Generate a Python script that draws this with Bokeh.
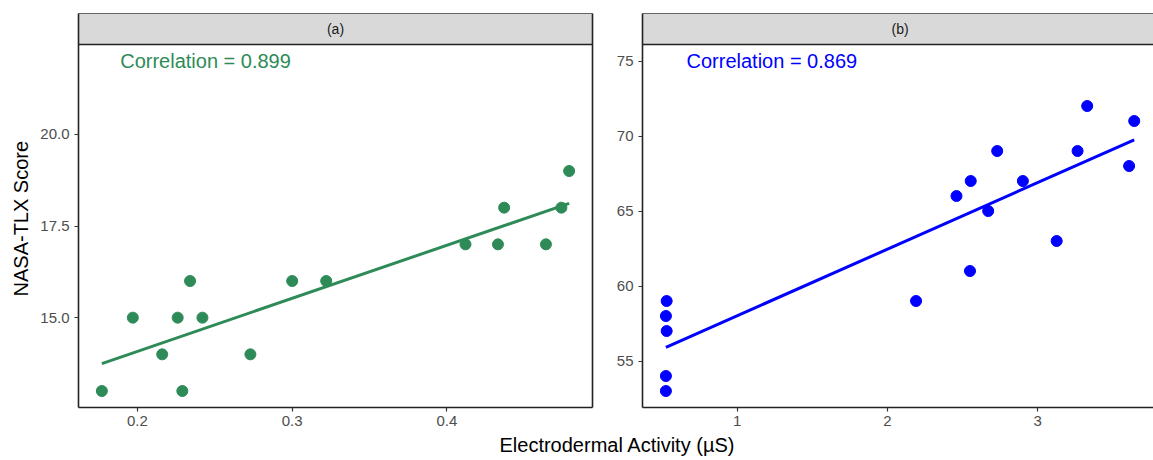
import numpy as np
from bokeh.plotting import figure
from bokeh.layouts import column, row
from bokeh.models import (Range1d, FixedTicker, PrintfTickFormatter, BoxAnnotation,
                          Label, LinearAxis, Span)
from bokeh.embed import file_html
from bokeh.resources import INLINE

FONT = "Liberation Sans"

# ---- data -------------------------------------------------------------
# Panel (a): electrodermal activity vs NASA-TLX score
eda_a = [0.177, 0.197, 0.216, 0.226, 0.229, 0.234, 0.242, 0.273, 0.300, 0.322,
         0.412, 0.433, 0.464, 0.437, 0.474, 0.479]
tlx_a = [13, 15, 14, 15, 13, 16, 15, 14, 16, 16, 17, 17, 17, 18, 18, 19]

# Panel (b)
eda_b = [0.530, 0.525, 0.530, 0.525, 0.525, 2.190, 2.549, 3.126, 2.459, 2.554,
         2.670, 2.730, 2.901, 3.265, 3.329, 3.642, 3.608]
tlx_b = [59, 58, 57, 54, 53, 59, 61, 63, 66, 67, 65, 69, 67, 69, 72, 71, 68]

panel_titles = ["(a)", "(b)"]
corr_labels = ["Correlation = 0.899", "Correlation = 0.869"]
corr_x = [0.244, 1.23]
corr_y = [22, 75]
colors = ["#2E8B57", "#0000FF"]

x_ticks_a = [0.2, 0.3, 0.4]
y_ticks_a = [15, 17.5, 20]
x_ticks_b = [1, 2, 3]
y_ticks_b = [55, 60, 65, 70, 75]

x_title = "Electrodermal Activity (\u00b5S)"
y_title = "NASA-TLX Score"

# ---- layout constants (pixels) ------------------------------------------
TOP = 13          # space above the facet strip
STRIP = 31        # facet strip height
PANEL_H = 363     # panel height
BOTTOM = 26       # room for x tick labels
ROW_H = TOP + STRIP + PANEL_H + BOTTOM
Y_TITLE_W = 32    # column holding the y axis title
W_A = 602 - Y_TITLE_W
LEFT_A = 78 - Y_TITLE_W
RIGHT_A = 10
W_B = 1153 - 602
LEFT_B = 642 - 602
VISIBLE_B = 0.992  # share of panel (b) that fits on the page

BORDER = "#222222"
BORDER_W = 1.6


def expand(lo, hi, f=0.05):
    d = (hi - lo) * f
    return lo - d, hi + d


def bare_axis(color, width):
    return LinearAxis(ticker=FixedTicker(ticks=[]), major_label_text_font_size="0px",
                      axis_line_color=color, axis_line_width=width,
                      major_tick_line_color=None, minor_tick_line_color=None)


def make_panel(x, y, color, title, corr, cx, cy, xt, yt, xfmt, yfmt,
               width, left, right, visible=1.0, right_border=True):
    x = np.asarray(x, float)
    y = np.asarray(y, float)
    xlo, xhi = expand(min(x.min(), cx), max(x.max(), cx))
    ylo, yhi = expand(min(y.min(), cy), max(y.max(), cy))
    strip_h = (yhi - ylo) * STRIP / PANEL_H
    x_end = xlo + (xhi - xlo) * visible

    p = figure(width=width, height=ROW_H, title=None,
               x_range=Range1d(xlo, x_end), y_range=Range1d(ylo, yhi + strip_h),
               min_border_left=left, min_border_right=right,
               min_border_top=TOP, min_border_bottom=BOTTOM,
               toolbar_location=None, output_backend="svg",
               outline_line_color=None, background_fill_color="white",
               border_fill_color="white")
    p.grid.visible = False

    for ax, ticks, fmt in ((p.xaxis[0], xt, xfmt), (p.yaxis[0], yt, yfmt)):
        ax.ticker = FixedTicker(ticks=ticks)
        ax.formatter = PrintfTickFormatter(format=fmt)
        ax.axis_line_color = BORDER
        ax.axis_line_width = BORDER_W
        ax.major_tick_line_color = "#333333"
        ax.major_tick_line_width = 1.2
        ax.major_tick_out = 4
        ax.major_tick_in = 0
        ax.minor_tick_line_color = None
        ax.major_label_text_color = "#4d4d4d"
        ax.major_label_text_font = FONT
        ax.major_label_text_font_size = "15px"
    p.xaxis[0].major_label_standoff = 4
    p.yaxis[0].major_label_standoff = 5

    # outer frame lines: strip top and, where visible, the right edge
    p.add_layout(bare_axis("#666666", 1), "above")
    if right_border:
        p.add_layout(bare_axis(BORDER, BORDER_W), "right")

    # facet strip
    p.add_layout(BoxAnnotation(bottom=yhi, fill_color="#d9d9d9", fill_alpha=1,
                               line_color=None, level="underlay"))
    p.add_layout(Span(location=yhi, dimension="width", line_color=BORDER,
                      line_width=BORDER_W))
    p.add_layout(Label(x=(xlo + xhi) / 2, y=yhi + strip_h / 2, text=title,
                       text_align="center", text_baseline="middle",
                       text_font=FONT, text_font_size="14px", text_color="#1a1a1a"))

    # points and least-squares line
    p.scatter(x, y, size=11, fill_color=color, line_color=color)
    k, b = np.polyfit(x, y, 1)
    xs = np.array([x.min(), x.max()])
    p.line(xs, k * xs + b, line_color=color, line_width=3)

    p.add_layout(Label(x=cx, y=cy, text=corr, text_align="center",
                       text_baseline="middle", text_font=FONT,
                       text_font_size="20px", text_color=color))
    return p


pa = make_panel(eda_a, tlx_a, colors[0], panel_titles[0], corr_labels[0],
                corr_x[0], corr_y[0], x_ticks_a, y_ticks_a, "%.1f", "%.1f",
                W_A, LEFT_A, RIGHT_A)
pb = make_panel(eda_b, tlx_b, colors[1], panel_titles[1], corr_labels[1],
                corr_x[1], corr_y[1], x_ticks_b, y_ticks_b, "%d", "%d",
                W_B, LEFT_B, 0, VISIBLE_B, right_border=False)


def text_strip(width, height, text, x, y, angle=0.0):
    f = figure(width=width, height=height, title=None,
               x_range=Range1d(0, width), y_range=Range1d(0, height),
               x_axis_type=None, y_axis_type=None, min_border=0,
               toolbar_location=None, output_backend="svg",
               outline_line_color=None)
    f.grid.visible = False
    f.add_layout(Label(x=x, y=y, text=text, angle=angle, text_align="center",
                       text_baseline="middle", text_font=FONT,
                       text_font_size="20px", text_color="#000000"))
    return f


# y axis title, centred on the panel area
py = text_strip(Y_TITLE_W, ROW_H, y_title, 20, ROW_H - (TOP + STRIP + PANEL_H / 2),
                angle=np.pi / 2)

# shared x axis title
TITLE_H = 460 - ROW_H
pc = text_strip(1153, TITLE_H, x_title, 617, TITLE_H - 11)

layout = column(row(py, pa, pb), pc)
open("out.html", "w").write(file_html(layout, INLINE))
